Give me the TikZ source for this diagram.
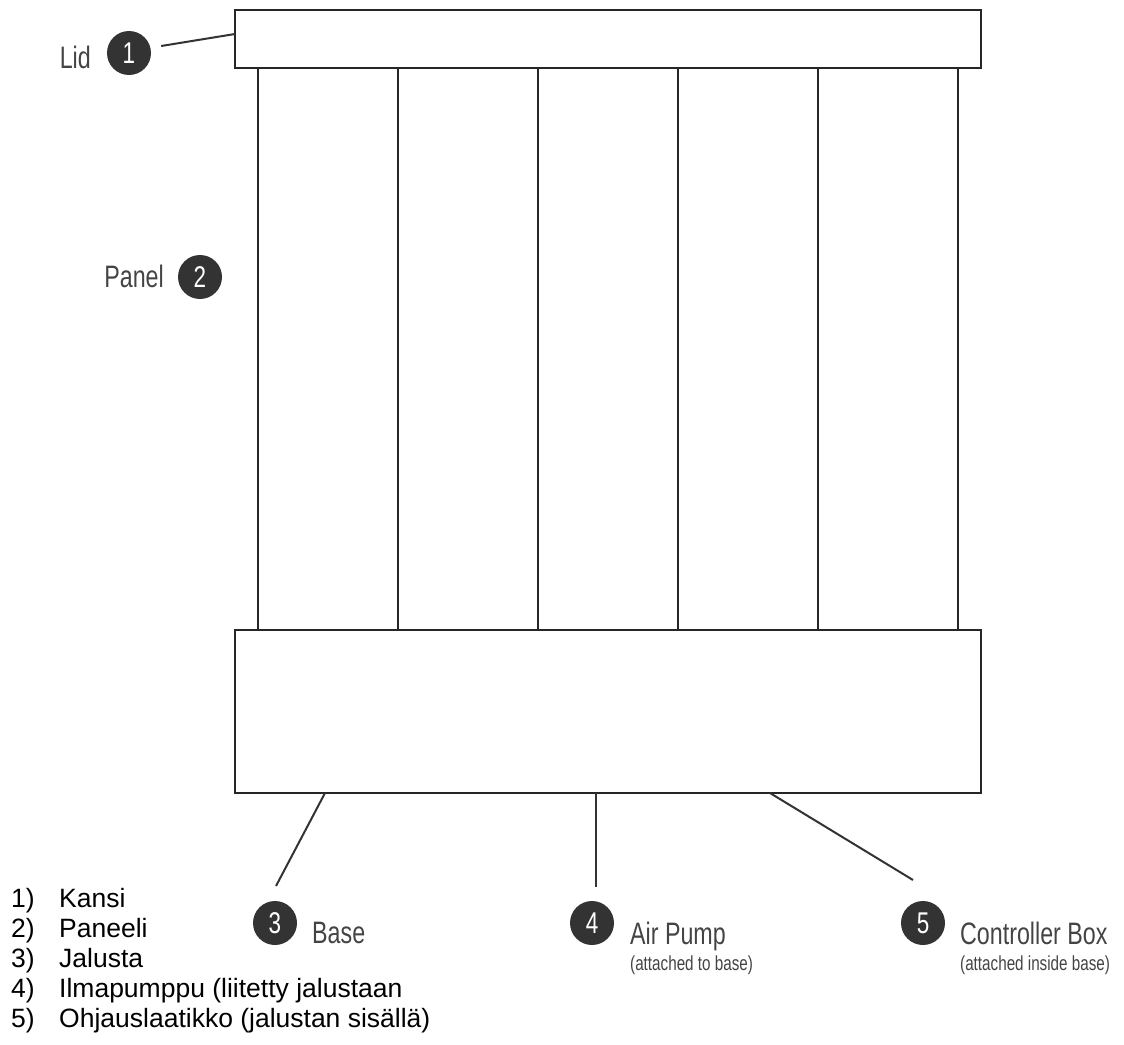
\documentclass[tikz,border=0pt]{standalone}
\usepackage{fontspec}
\setmainfont{Liberation Sans}
\newfontfamily\narrowfont[FakeStretch=0.75]{Liberation Sans}
\usetikzlibrary{positioning}
\definecolor{badge}{HTML}{333333}
\definecolor{callgray}{HTML}{444444}

\tikzset{
  frame/.style={draw=black!85, line width=1.4pt},
  leader/.style={draw=badge, line width=2pt},
  badgenode/.style={circle, fill=badge, minimum size=44pt, inner sep=0pt,
    text=white, font=\narrowfont\fontsize{30}{30}\selectfont},
  calltext/.style={text=callgray, inner sep=0pt, anchor=base west,
    font=\narrowfont\fontsize{31}{31}\selectfont},
  subtext/.style={text=callgray, inner sep=0pt, anchor=base west,
    font=\narrowfont\fontsize{20.3}{20.3}\selectfont},
  listtext/.style={inner sep=0pt, anchor=base west,
    font=\fontsize{26.5}{26.5}\selectfont}
}

\begin{document}
\begin{tikzpicture}[x=1pt, y=-1pt]
  \useasboundingbox (0,0) rectangle (1124,1044);

  % Lid, panels and base
  \draw[frame] (235,10) rectangle (981,68);
  \draw[frame] (258,68) rectangle (958,630);
  \foreach \xp in {398,538,678,818}
    \draw[frame] (\xp,68) -- (\xp,630);
  \draw[frame] (235,630) rectangle (981,793);

  % Leader end points on the frame
  \coordinate (lidpt) at (235,34);
  \coordinate (basept) at (325,793);
  \coordinate (pumppt) at (596,793);
  \coordinate (boxpt) at (770,793);

  % Badges
  \node[badgenode] (b1) at (129,53) {1};
  \node[badgenode] (b2) at (200,277) {2};
  \node[badgenode] (b3) at (275,923) {3};
  \node[badgenode] (b4) at (592,923) {4};
  \node[badgenode] (b5) at (923,923) {5};

  % Callout texts
  \node[calltext, anchor=base east] (lid) at (91,68) {Lid};
  \node[calltext, anchor=base east] (panel) at (164,287) {Panel};
  \node[calltext] (base) at (312,943) {Base};
  \node[calltext] (pump) at (630,944) {Air Pump};
  \node[subtext] (pumpsub) at (630,970) {(attached to base)};
  \node[calltext] (ctrl) at (960,944) {Controller Box};
  \node[subtext] (ctrlsub) at (960,970) {(attached inside base)};

  % Leaders
  \draw[leader] (b1.east) ++(10,-7) coordinate (b1end) -- (lidpt);
  \draw[leader] (basept) -- (276,886) coordinate (b3end);
  \draw[leader] (pumppt) -- (596,887) coordinate (b4end);
  \draw[leader] (boxpt) -- (913,880) coordinate (b5end);

  % Finnish list
  \foreach \i/\txt [count=\k from 0] in {1/Kansi, 2/Paneeli, 3/Jalusta,
      4/{Ilmapumppu (liitetty jalustaan}, 5/{Ohjauslaatikko (jalustan sisällä)}}{
    \node[listtext] (num\i) at (11,907+30.2*\k) {\i)};
    \node[listtext] (item\i) at (59,907+30.2*\k) {\txt};
  }
\end{tikzpicture}
\end{document}
